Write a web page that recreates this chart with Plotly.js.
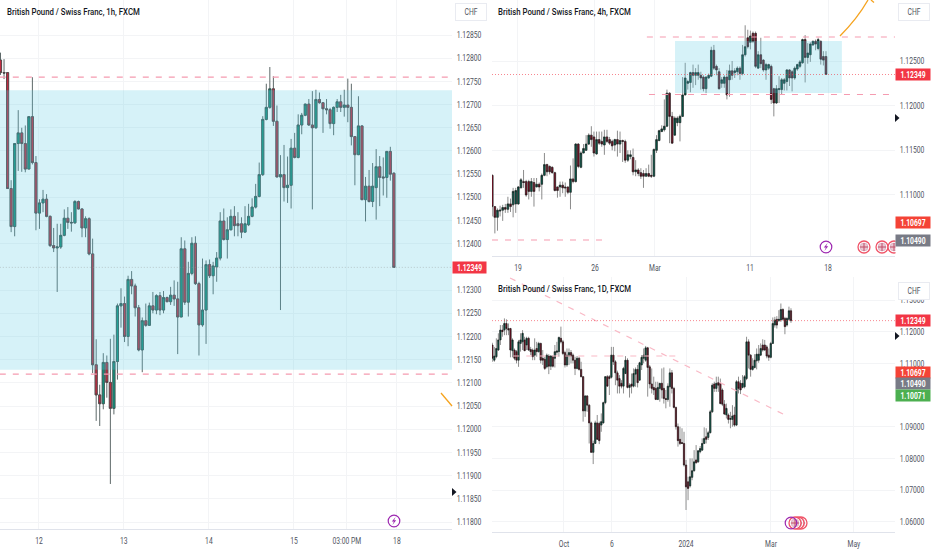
<!DOCTYPE html>
<html><head><meta charset="utf-8">
<script src="https://cdn.plot.ly/plotly-3.0.1.min.js"></script>
<style>html,body{margin:0;padding:0;background:#fff}#c{width:932px;height:550px}</style></head>
<body><div id="c"></div>
<script>
// [open, high, low, close]
const h1Candles=[[1.12796,1.12812,1.12764,1.12769],[1.12769,1.12798,1.12755,1.12768],[1.12769,1.12769,1.12518,1.12519],[1.12519,1.12537,1.12425,1.12437],[1.12437,1.12616,1.12416,1.12616],[1.12616,1.12688,1.12557,1.12639],[1.12639,1.12650,1.12555,1.12616],[1.12616,1.12655,1.12554,1.12561],[1.12561,1.12674,1.12561,1.12674],[1.12674,1.12759,1.12571,1.12575],
[1.12575,1.12589,1.12429,1.12466],[1.12466,1.12496,1.12432,1.12488],[1.12488,1.12516,1.12468,1.12496],[1.12496,1.12507,1.12457,1.12459],[1.12459,1.12461,1.12393,1.12396],[1.12396,1.12434,1.12382,1.12391],[1.12391,1.12443,1.12296,1.12393],[1.12393,1.12443,1.12389,1.12418],[1.12418,1.12474,1.12416,1.12455],[1.12455,1.12479,1.12432,1.12446],
[1.12446,1.12468,1.12426,1.12445],[1.12445,1.12494,1.12443,1.12491],[1.12491,1.12493,1.12474,1.12475],[1.12475,1.12476,1.12414,1.12434],[1.12434,1.12459,1.12414,1.12454],[1.12454,1.12457,1.12375,1.12378],[1.12378,1.12411,1.12121,1.12139],[1.12139,1.12194,1.12018,1.12074],[1.12074,1.12096,1.12007,1.12055],[1.12055,1.12164,1.12043,1.12144],
[1.12144,1.12159,1.12068,1.12101],[1.12101,1.12195,1.11882,1.12045],[1.12045,1.12204,1.12032,1.12146],[1.12146,1.12271,1.12107,1.12266],[1.12266,1.12304,1.12219,1.12271],[1.12271,1.12286,1.12188,1.12200],[1.12200,1.12331,1.12179,1.12323],[1.12323,1.12341,1.12291,1.12309],[1.12309,1.12314,1.12243,1.12262],[1.12262,1.12268,1.12168,1.12171],
[1.12171,1.12241,1.12123,1.12234],[1.12234,1.12271,1.12221,1.12224],[1.12224,1.12273,1.12224,1.12266],[1.12266,1.12296,1.12250,1.12257],[1.12257,1.12291,1.12248,1.12288],[1.12288,1.12296,1.12246,1.12257],[1.12257,1.12298,1.12250,1.12284],[1.12284,1.12286,1.12274,1.12275],[1.12275,1.12307,1.12268,1.12289],[1.12289,1.12321,1.12266,1.12281],
[1.12281,1.12318,1.12162,1.12242],[1.12242,1.12414,1.12242,1.12389],[1.12389,1.12407,1.12268,1.12274],[1.12274,1.12361,1.12243,1.12336],[1.12336,1.12414,1.12332,1.12401],[1.12401,1.12416,1.12311,1.12314],[1.12314,1.12318,1.12159,1.12225],[1.12225,1.12368,1.12221,1.12257],[1.12257,1.12364,1.12184,1.12355],[1.12355,1.12366,1.12326,1.12331],
[1.12331,1.12361,1.12291,1.12352],[1.12350,1.12382,1.12318,1.12369],[1.12369,1.12468,1.12364,1.12449],[1.12449,1.12476,1.12407,1.12409],[1.12409,1.12457,1.12368,1.12430],[1.12430,1.12474,1.12429,1.12459],[1.12459,1.12481,1.12416,1.12439],[1.12443,1.12468,1.12416,1.12439],[1.12443,1.12457,1.12412,1.12425],[1.12425,1.12481,1.12424,1.12443],
[1.12441,1.12486,1.12438,1.12459],[1.12459,1.12498,1.12457,1.12479],[1.12479,1.12529,1.12476,1.12502],[1.12502,1.12575,1.12500,1.12549],[1.12549,1.12675,1.12546,1.12668],[1.12668,1.12745,1.12666,1.12694],[1.12694,1.12781,1.12691,1.12734],[1.12734,1.12761,1.12654,1.12664],[1.12664,1.12698,1.12543,1.12544],[1.12544,1.12591,1.12257,1.12549],
[1.12549,1.12613,1.12491,1.12521],[1.12521,1.12588,1.12488,1.12526],[1.12526,1.12626,1.12476,1.12606],[1.12606,1.12639,1.12584,1.12586],[1.12586,1.12679,1.12584,1.12656],[1.12656,1.12682,1.12636,1.12677],[1.12677,1.12702,1.12675,1.12701],[1.12701,1.12712,1.12654,1.12656],[1.12656,1.12729,1.12474,1.12650],[1.12650,1.12732,1.12648,1.12711],
[1.12711,1.12726,1.12702,1.12704],[1.12704,1.12705,1.12639,1.12691],[1.12691,1.12712,1.12679,1.12689],[1.12689,1.12693,1.12648,1.12659],[1.12659,1.12696,1.12634,1.12694],[1.12694,1.12712,1.12684,1.12706],[1.12706,1.12721,1.12684,1.12694],[1.12694,1.12732,1.12674,1.12699],[1.12699,1.12756,1.12662,1.12694],[1.12694,1.12745,1.12612,1.12631],
[1.12631,1.12632,1.12526,1.12592],[1.12592,1.12718,1.12591,1.12654],[1.12654,1.12655,1.12494,1.12495],[1.12495,1.12544,1.12448,1.12524],[1.12524,1.12559,1.12489,1.12491],[1.12491,1.12574,1.12479,1.12524],[1.12521,1.12604,1.12452,1.12566],[1.12566,1.12589,1.12481,1.12543],[1.12544,1.12586,1.12504,1.12542],[1.12543,1.12600,1.12499,1.12599],
[1.12599,1.12609,1.12536,1.12550],[1.12552,1.12554,1.12348,1.12349]];

const h4Candles=[[1.1122,1.1123,1.1076,1.1087],[1.1087,1.1087,1.1057,1.1075],[1.1075,1.1085,1.1060,1.1083],[1.1082,1.1088,1.1076,1.1083],[1.1083,1.1089,1.1071,1.1086],[1.1086,1.1090,1.1080,1.1084],[1.1084,1.1098,1.1080,1.1090],[1.1090,1.1096,1.1081,1.1087],[1.1089,1.1108,1.1075,1.1104],[1.1090,1.1108,1.1080,1.1105],
[1.1090,1.1110,1.1089,1.1109],[1.1108,1.1119,1.1108,1.1117],[1.1115,1.1128,1.1108,1.1114],[1.1115,1.1117,1.1098,1.1100],[1.1115,1.1117,1.1095,1.1104],[1.1104,1.1119,1.1098,1.1115],[1.1114,1.1119,1.1087,1.1104],[1.1109,1.1119,1.1109,1.1112],[1.1112,1.1114,1.1104,1.1109],[1.1112,1.1124,1.1095,1.1122],
[1.1122,1.1147,1.1121,1.1134],[1.1134,1.1135,1.1121,1.1126],[1.1132,1.1133,1.1123,1.1126],[1.1131,1.1132,1.1124,1.1125],[1.1125,1.1126,1.1104,1.1105],[1.1109,1.1109,1.1097,1.1105],[1.1109,1.1115,1.1098,1.1111],[1.1111,1.1115,1.1102,1.1108],[1.1109,1.1114,1.1098,1.1108],[1.1109,1.1109,1.1101,1.1103],
[1.1103,1.1133,1.1084,1.1118],[1.1118,1.1141,1.1113,1.1115],[1.1115,1.1158,1.1114,1.1157],[1.1157,1.1158,1.1130,1.1132],[1.1131,1.1149,1.1130,1.1147],[1.1147,1.1157,1.1147,1.1152],[1.1150,1.1167,1.1150,1.1157],[1.1157,1.1169,1.1156,1.1167],[1.1167,1.1177,1.1154,1.1162],[1.1165,1.1171,1.1143,1.1147],
[1.1146,1.1171,1.1145,1.1162],[1.1162,1.1171,1.1156,1.1158],[1.1160,1.1171,1.1154,1.1157],[1.1156,1.1173,1.1145,1.1165],[1.1165,1.1173,1.1158,1.1160],[1.1162,1.1165,1.1156,1.1158],[1.1160,1.1162,1.1150,1.1155],[1.1156,1.1163,1.1149,1.1162],[1.1162,1.1172,1.1143,1.1157],[1.1157,1.1171,1.1147,1.1161],
[1.1161,1.1162,1.1137,1.1160],[1.1160,1.1162,1.1136,1.1139],[1.1139,1.1150,1.1137,1.1145],[1.1143,1.1150,1.1140,1.1145],[1.1142,1.1152,1.1122,1.1126],[1.1126,1.1139,1.1121,1.1128],[1.1128,1.1130,1.1121,1.1124],[1.1125,1.1130,1.1118,1.1121],[1.1124,1.1128,1.1108,1.1121],[1.1121,1.1130,1.1121,1.1124],
[1.1124,1.1134,1.1120,1.1121],[1.1122,1.1145,1.1119,1.1121],[1.1121,1.1152,1.1120,1.1151],[1.1150,1.1167,1.1147,1.1162],[1.1161,1.1173,1.1160,1.1172],[1.1171,1.1178,1.1171,1.1174],[1.1173,1.1207,1.1171,1.1177],[1.1177,1.1218,1.1176,1.1214],[1.1214,1.1215,1.1158,1.1188],[1.1188,1.1193,1.1158,1.1158],
[1.1167,1.1188,1.1167,1.1186],[1.1181,1.1188,1.1177,1.1186],[1.1181,1.1190,1.1160,1.1188],[1.1188,1.1232,1.1188,1.1212],[1.1212,1.1248,1.1212,1.1231],[1.1225,1.1229,1.1218,1.1227],[1.1226,1.1238,1.1215,1.1237],[1.1237,1.1246,1.1220,1.1234],[1.1234,1.1242,1.1223,1.1237],[1.1234,1.1246,1.1229,1.1237],
[1.1234,1.1238,1.1218,1.1231],[1.1232,1.1234,1.1216,1.1219],[1.1219,1.1233,1.1214,1.1232],[1.1231,1.1236,1.1230,1.1234],[1.1233,1.1266,1.1232,1.1262],[1.1262,1.1268,1.1240,1.1242],[1.1244,1.1246,1.1234,1.1240],[1.1238,1.1242,1.1218,1.1219],[1.1225,1.1232,1.1220,1.1229],[1.1225,1.1234,1.1220,1.1232],
[1.1232,1.1240,1.1207,1.1212],[1.1229,1.1246,1.1210,1.1239],[1.1239,1.1250,1.1229,1.1234],[1.1237,1.1242,1.1231,1.1239],[1.1238,1.1244,1.1234,1.1242],[1.1242,1.1244,1.1229,1.1236],[1.1236,1.1268,1.1234,1.1257],[1.1257,1.1290,1.1255,1.1266],[1.1276,1.1285,1.1264,1.1266],[1.1271,1.1284,1.1263,1.1278],
[1.1281,1.1283,1.1270,1.1272],[1.1281,1.1283,1.1242,1.1244],[1.1242,1.1261,1.1242,1.1257],[1.1257,1.1276,1.1242,1.1247],[1.1251,1.1252,1.1238,1.1240],[1.1240,1.1248,1.1229,1.1246],[1.1242,1.1247,1.1240,1.1246],[1.1244,1.1246,1.1202,1.1207],[1.1219,1.1220,1.1188,1.1203],[1.1203,1.1223,1.1202,1.1219],
[1.1218,1.1233,1.1203,1.1219],[1.1218,1.1231,1.1212,1.1229],[1.1225,1.1231,1.1217,1.1229],[1.1227,1.1241,1.1217,1.1240],[1.1240,1.1241,1.1222,1.1231],[1.1238,1.1240,1.1216,1.1231],[1.1231,1.1244,1.1229,1.1242],[1.1241,1.1247,1.1239,1.1246],[1.1244,1.1251,1.1242,1.1249],[1.1248,1.1275,1.1247,1.1274],
[1.1274,1.1279,1.1226,1.1254],[1.1254,1.1270,1.1247,1.1259],[1.1257,1.1271,1.1249,1.1269],[1.1268,1.1273,1.1267,1.1272],[1.1272,1.1274,1.1262,1.1269],[1.1264,1.1276,1.1262,1.1274],[1.1272,1.1273,1.1246,1.1252],[1.1255,1.1261,1.1245,1.1251],[1.1255,1.1261,1.1235,1.1235]];

const d1Candles=[[1.1158,1.1165,1.1105,1.1116],[1.1110,1.1152,1.1105,1.1123],[1.1121,1.1179,1.1116,1.1147],[1.1142,1.1195,1.1140,1.1174],[1.1174,1.1221,1.1158,1.1205],[1.1205,1.1221,1.1184,1.1200],[1.1205,1.1242,1.1189,1.1226],[1.1226,1.1239,1.1189,1.1210],[1.1210,1.1226,1.1189,1.1205],[1.1210,1.1212,1.1119,1.1142],
[1.1140,1.1179,1.1119,1.1174],[1.1142,1.1147,1.1110,1.1116],[1.1137,1.1142,1.1100,1.1110],[1.1110,1.1174,1.1089,1.1168],[1.1163,1.1195,1.1137,1.1174],[1.1168,1.1205,1.1142,1.1195],[1.1174,1.1184,1.1140,1.1140],[1.1158,1.1184,1.1142,1.1179],[1.1179,1.1184,1.1140,1.1142],[1.1144,1.1152,1.1126,1.1137],
[1.1142,1.1147,1.1110,1.1121],[1.1126,1.1179,1.1110,1.1142],[1.1147,1.1168,1.1121,1.1137],[1.1137,1.1168,1.1134,1.1163],[1.1163,1.1165,1.1100,1.1110],[1.1116,1.1142,1.1095,1.1110],[1.1113,1.1121,1.1079,1.1084],[1.1089,1.1131,1.1084,1.1126],[1.1123,1.1129,1.1066,1.1091],[1.1091,1.1126,1.1079,1.1123],
[1.1121,1.1126,1.1087,1.1091],[1.1116,1.1158,1.1087,1.1137],[1.1135,1.1168,1.1126,1.1139],[1.1137,1.1184,1.1121,1.1182],[1.1179,1.1216,1.1163,1.1168],[1.1168,1.1174,1.1126,1.1131],[1.1134,1.1140,1.1087,1.1095],[1.1095,1.1147,1.1089,1.1126],[1.1123,1.1147,1.1095,1.1134],[1.1134,1.1142,1.1100,1.1123],
[1.1126,1.1131,1.1100,1.1110],[1.1110,1.1121,1.1063,1.1084],[1.1084,1.1123,1.1081,1.1116],[1.1116,1.1121,1.1077,1.1081],[1.1081,1.1105,1.1056,1.1058],[1.1058,1.1060,1.0916,1.0950],[1.0950,1.1000,1.0931,1.0997],[1.0997,1.1000,1.0947,1.0968],[1.0968,1.0971,1.0847,1.0912],[1.0912,1.0916,1.0818,1.0819],
[1.0819,1.0856,1.0782,1.0847],[1.0847,1.0919,1.0847,1.0912],[1.0912,1.0937,1.0858,1.0860],[1.0910,1.0916,1.0845,1.0856],[1.0905,1.0942,1.0884,1.0916],[1.0912,1.0979,1.0910,1.0976],[1.0976,1.1060,1.0971,1.1058],[1.1058,1.1063,1.1028,1.1028],[1.1058,1.1063,1.1000,1.1052],[1.1056,1.1152,1.1052,1.1126],
[1.1126,1.1152,1.1095,1.1105],[1.1105,1.1110,1.1031,1.1070],[1.1070,1.1077,1.1005,1.1047],[1.1052,1.1063,1.1005,1.1028],[1.1037,1.1047,1.1021,1.1028],[1.1028,1.1089,1.1005,1.1084],[1.1068,1.1123,1.1066,1.1110],[1.1110,1.1116,1.1021,1.1024],[1.1024,1.1037,1.0992,1.1031],[1.1035,1.1068,1.1005,1.1028],
[1.1028,1.1084,1.1024,1.1068],[1.1066,1.1087,1.1026,1.1081],[1.1081,1.1095,1.1024,1.1039],[1.1047,1.1105,1.1045,1.1102],[1.1095,1.1126,1.1079,1.1119],[1.1116,1.1147,1.1100,1.1126],[1.1110,1.1155,1.1105,1.1149],[1.1149,1.1152,1.0995,1.1087],[1.1089,1.1095,1.1021,1.1035],[1.1035,1.1084,1.1005,1.1021],
[1.1024,1.1058,1.1000,1.1016],[1.1021,1.1042,1.0984,1.0986],[1.0986,1.1042,1.0984,1.1024],[1.1021,1.1037,1.0979,1.1037],[1.1037,1.1084,1.0989,1.1016],[1.1021,1.1087,1.0973,1.0989],[1.0989,1.1016,1.0958,1.0986],[1.0986,1.1037,1.0979,1.1028],[1.1026,1.1084,1.0963,1.1070],[1.1070,1.1079,1.1005,1.1021],
[1.1021,1.1026,1.0958,1.0961],[1.0961,1.0963,1.0891,1.0900],[1.0900,1.0910,1.0837,1.0856],[1.0860,1.0900,1.0842,1.0847],[1.0850,1.0895,1.0847,1.0847],[1.0847,1.0884,1.0774,1.0779],[1.0779,1.0795,1.0637,1.0710],[1.0726,1.0742,1.0668,1.0705],[1.0713,1.0800,1.0708,1.0742],[1.0740,1.0800,1.0731,1.0761],
[1.0761,1.0826,1.0758,1.0789],[1.0795,1.0842,1.0784,1.0786],[1.0789,1.0826,1.0786,1.0824],[1.0821,1.0839,1.0816,1.0831],[1.0826,1.0863,1.0824,1.0847],[1.0847,1.0898,1.0845,1.0863],[1.0868,1.0895,1.0847,1.0860],[1.0866,1.0887,1.0858,1.0881],[1.0881,1.0953,1.0879,1.0947],[1.0947,1.1037,1.0944,1.1031],
[1.1035,1.1042,1.1010,1.1021],[1.1021,1.1058,1.1010,1.1037],[1.1039,1.1058,1.1010,1.1031],[1.1037,1.1052,1.0971,1.0973],[1.1016,1.1021,1.0965,1.0971],[1.0971,1.0984,1.0937,1.0940],[1.0937,1.0973,1.0926,1.0958],[1.0937,1.0942,1.0910,1.0923],[1.0923,1.0947,1.0895,1.0926],[1.0923,1.0968,1.0900,1.0934],
[1.0937,1.0963,1.0900,1.0905],[1.0905,1.1047,1.0902,1.1042],[1.1042,1.1058,1.1005,1.1021],[1.1037,1.1047,1.1003,1.1016],[1.1024,1.1063,1.1021,1.1037],[1.1026,1.1063,1.1021,1.1058],[1.1052,1.1184,1.1047,1.1168],[1.1168,1.1176,1.1084,1.1126],[1.1126,1.1129,1.1058,1.1081],[1.1081,1.1116,1.1077,1.1091],
[1.1087,1.1129,1.1084,1.1110],[1.1108,1.1147,1.1081,1.1129],[1.1110,1.1158,1.1102,1.1129],[1.1126,1.1163,1.1123,1.1147],[1.1158,1.1176,1.1137,1.1142],[1.1158,1.1174,1.1140,1.1142],[1.1152,1.1158,1.1116,1.1123],[1.1126,1.1147,1.1108,1.1119],[1.1119,1.1168,1.1116,1.1163],[1.1163,1.1245,1.1161,1.1226],
[1.1221,1.1247,1.1213,1.1237],[1.1239,1.1249,1.1210,1.1221],[1.1235,1.1268,1.1231,1.1239],[1.1237,1.1289,1.1231,1.1270],[1.1270,1.1274,1.1235,1.1239],[1.1242,1.1247,1.1192,1.1216],[1.1221,1.1245,1.1216,1.1242],[1.1239,1.1279,1.1235,1.1266],[1.1266,1.1274,1.1228,1.1235]];

const h1PriceTicks=[1.1285,1.128,1.1275,1.127,1.1265,1.126,1.1255,1.125,1.1245,1.124,1.123,1.1225,1.122,1.1215,1.121,1.1205,1.12,1.1195,1.119,1.1185,1.118];
const h4PriceTicks=[1.125,1.12,1.115,1.11];
const d1PriceTicks=[1.13,1.12,1.11,1.09,1.08,1.07,1.06];
const h1TimeTicks=[10.86,34.8,58.8,82.8,97.7,111.85];
const h1TimeLabels=['12','13','14','15','03:00 PM','18'];
const h4TimeTicks=[9.86,39.4,62.4,98.9,128.8];
const h4TimeLabels=['19','26','Mar','11','18'];
const d1TimeTicks=[35.5,59.3,96,138.1,179.2];
const d1TimeLabels=['Oct','6','2024','Mar','May'];
const chartTitles=['British Pound / Swiss Franc, 1h, FXCM','British Pound / Swiss Franc, 4h, FXCM','British Pound / Swiss Franc, 1D, FXCM'];
const lastPrice=1.12349;

const FONT='Roboto,"Liberation Sans",sans-serif';
const W=932,H=550,px=x=>x/W,py=y=>1-y/H;

function candleTraces(rows,xa,ya,st){
  const x=rows.map((_,i)=>i),o=rows.map(r=>r[0]),h=rows.map(r=>r[1]),l=rows.map(r=>r[2]),c=rows.map(r=>r[3]);
  const base={type:'candlestick',x,xaxis:xa,yaxis:ya,hoverinfo:'skip',showlegend:false,whiskerwidth:0};
  return [
    Object.assign({},base,{open:o,high:h,low:l,close:c,
      increasing:{line:{color:st.wick,width:1},fillcolor:'rgba(0,0,0,0)'},
      decreasing:{line:{color:st.wick,width:1},fillcolor:'rgba(0,0,0,0)'}}),
    Object.assign({},base,{open:o,close:c,high:o.map((v,i)=>Math.max(v,c[i])),low:o.map((v,i)=>Math.min(v,c[i])),
      increasing:{line:{color:st.edge,width:st.ew},fillcolor:st.up},
      decreasing:{line:{color:st.edge,width:st.ew},fillcolor:st.down}})
  ];
}
const data=[
  ...candleTraces(h1Candles,'x','y',{wick:'#5d6868',edge:'#3a4645',ew:0.6,up:'#12947e',down:'#c02c42'}),
  ...candleTraces(h4Candles,'x2','y2',{wick:'#8b8b8b',edge:'#141414',ew:0.5,up:'#075c4c',down:'#7c1226'}),
  ...candleTraces(d1Candles,'x3','y3',{wick:'#8f8f8f',edge:'#111',ew:0.5,up:'#075c4c',down:'#7c1226'})
];

const tf={family:FONT,size:9,color:'#50535e'};
const gc='#f3f4f6';
const fmt=v=>v.toFixed(5);
function xAxis(dom,range,tv,tt,anchor){return {domain:dom,range,anchor,tickmode:'array',tickvals:tv,ticktext:tt,tickfont:tf,showgrid:true,gridcolor:gc,gridwidth:1,zeroline:false,showline:true,linecolor:'#e0e3eb',linewidth:1,ticks:'outside',ticklen:3,tickcolor:'rgba(0,0,0,0)',rangeslider:{visible:false},fixedrange:true};}
function yAxis(dom,range,tv,anchor){return {domain:dom,range,anchor,side:'right',tickmode:'array',tickvals:tv,ticktext:tv.map(fmt),tickfont:tf,showgrid:true,gridcolor:gc,gridwidth:1,zeroline:false,showline:false,ticks:'outside',ticklen:2,tickcolor:'rgba(0,0,0,0)',fixedrange:true};}

const shapes=[];
const dash={color:'#f59bb0',width:1.2,dash:'6px,7px'};
const zoneFill='rgba(91,203,227,0.25)';
function hline(xr,yr,x0,x1,p,line){shapes.push({type:'line',xref:xr,yref:yr,x0,x1,y0:p,y1:p,line,layer:'above'});}
// 1h panel
shapes.push({type:'rect',xref:'x',yref:'y',x0:-0.2,x1:127.4,y0:1.12128,y1:1.12731,fillcolor:zoneFill,line:{width:0},layer:'above'});
hline('x','y',-0.2,126.2,1.12759,dash);
hline('x','y',-0.2,126.2,1.12119,dash);
hline('x','y',-0.2,127.4,lastPrice,{color:'rgba(150,150,150,0.45)',width:1,dash:'1px,2px'});
// 4h panel
shapes.push({type:'rect',xref:'x2',yref:'y2',x0:70.1,x1:134.1,y0:1.12142,y1:1.12724,fillcolor:zoneFill,line:{width:0},layer:'above'});
hline('x2','y2',59.3,154.5,1.12769,dash);
hline('x2','y2',60.1,152.6,1.12125,dash);
hline('x2','y2',-0.1,42.5,1.10496,dash);
hline('x2','y2',-0.1,154.5,lastPrice,{color:'rgba(242,54,69,0.6)',width:1,dash:'1px,2px'});
// 1D panel
hline('x3','y3',10.4,91.5,1.11233,{color:'#f9b9c6',width:1.2,dash:'6px,7px'});
shapes.push({type:'line',xref:'x3',yref:'y3',x0:8.8,x1:146,y0:1.13696,y1:1.09338,line:{color:'#f9b9c6',width:1.2,dash:'6px,7px'},layer:'above'});
hline('x3','y3',-0.15,199.5,lastPrice,{color:'rgba(242,54,69,0.6)',width:1,dash:'1px,2px'});
// pixel-placed decoration
function pathPx(pts,fill,line){shapes.push({type:'path',xref:'paper',yref:'paper',path:pts.map((p,i)=>p[0]+px(p[1])+','+py(p[2])).join(' ')+(fill?' Z':''),fillcolor:fill||'rgba(0,0,0,0)',line:line||{width:0},layer:'above'});}
function circle(x,y,r,fill,color,w){shapes.push({type:'circle',xref:'paper',yref:'paper',x0:px(x-r),x1:px(x+r),y0:py(y+r),y1:py(y-r),fillcolor:fill,line:{color,width:w},layer:'above'});}
function bolt(x,y){circle(x,y,5.8,'#fff','#9c27b0',1.2);pathPx([['M',x+1.6,y-4],['L',x-2.2,y+0.6],['L',x-0.1,y+0.6],['L',x-1.6,y+4],['L',x+2.2,y-0.8],['L',x+0.1,y-0.8]],'#9c27b0');}
function flag(x,y){circle(x,y,6,'#fff','#f05468',1.3);circle(x,y,4,'#e9c7d2','#c9a1b6',0.5);
  pathPx([['M',x-4,y],['L',x+4,y]],null,{color:'#c04c66',width:1});pathPx([['M',x,y-4],['L',x,y+4]],null,{color:'#c04c66',width:1});}
function tri(x,y){pathPx([['M',x,y-4],['L',x+4.5,y],['L',x,y+4]],'#131722');}
const orange={color:'#f5a31f',width:1.3};
pathPx([['M',441,393],['L',452,406]],null,orange);
shapes.push({type:'path',xref:'paper',yref:'paper',path:`M${px(840)},${py(36)} C${px(850)},${py(26)} ${px(860)},${py(14)} ${px(868)},${py(0)}`,line:orange,fillcolor:'rgba(0,0,0,0)',layer:'above'});
pathPx([['M',871,0],['L',874,2.5]],null,orange);
tri(452,492);tri(895,118);tri(895,336);
bolt(394,521);bolt(826,247);
flag(864,247);flag(882,247);flag(894,247);
shapes.push({type:'rect',xref:'paper',yref:'paper',x0:px(895.5),x1:px(902),y0:py(255),y1:py(238),fillcolor:'#fff',line:{width:0},layer:'above'});
flag(801,523);flag(798,523);flag(795,523);
circle(791,523,5.8,'rgba(255,255,255,0)','#9c27b0',1.2);

const ann=[];
function title(t,x,y){ann.push({text:t,xref:'paper',yref:'paper',x:px(x),y:py(y),xanchor:'left',yanchor:'middle',showarrow:false,font:{family:FONT,size:9.5,weight:500,color:'#131722'}});}
title(chartTitles[0],5,11);title(chartTitles[1],496,11);title(chartTitles[2],496,288);
function tag(t,p,ya,x,w,c){ann.push({text:t,xref:'paper',yref:ya,x:px(x),y:p,xanchor:'left',yanchor:'middle',width:w,height:11,bgcolor:c,borderpad:0,showarrow:false,align:'center',font:{family:FONT,size:9,weight:700,color:'#fff'}});}
tag(fmt(lastPrice),lastPrice,'y',452,33,'#f23645');
tag(fmt(lastPrice),lastPrice,'y2',895,34,'#f23645');
tag('1.10697',1.10697,'y2',895,34,'#f44336');
tag('1.10490',1.1049,'y2',895,34,'#787b86');
tag(fmt(lastPrice),lastPrice,'y3',895,34,'#f23645');
// on the daily scale these tags are stacked so they do not collide, as in the reference
tag('1.10697',1.10697,'y3',895,34,'#f44336');
tag('1.10490',1.10349,'y3',895,34,'#787b86');
tag('1.10071',1.09985,'y3',895,34,'#4caf50');
function chf(x,y){ann.push({text:'CHF',xref:'paper',yref:'paper',x:px(x),y:py(y),xanchor:'left',yanchor:'top',width:28,height:14,bgcolor:'#fff',bordercolor:'#e9ebf1',borderwidth:1,borderpad:1,showarrow:false,align:'center',font:{family:FONT,size:9,color:'#50535e'}});}
chf(455,3);chf(898,3);chf(898,282);

const layout={width:W,height:H,margin:{l:0,r:0,t:0,b:0,pad:0},paper_bgcolor:'#fff',plot_bgcolor:'#fff',showlegend:false,boxgap:0.15,dragmode:false,
  xaxis:xAxis([0,px(452)],[-0.14,127.4],h1TimeTicks,h1TimeLabels,'y'),
  yaxis:yAxis([py(529),1],[1.117849,1.129255],h1PriceTicks,'x'),
  xaxis2:xAxis([px(492),px(895)],[-0.1,154.47],h4TimeTicks,h4TimeLabels,'y2'),
  yaxis2:yAxis([py(256),1],[1.10317,1.13183],h4PriceTicks,'x2'),
  xaxis3:xAxis([px(492),px(895)],[-0.15,199.55],d1TimeTicks,d1TimeLabels,'y3'),
  yaxis3:yAxis([py(532),py(277)],[1.05675,1.13727],d1PriceTicks,'x3'),
  shapes,annotations:ann};
Plotly.newPlot('c',data,layout,{displayModeBar:false,staticPlot:true}).then(gd=>{
  // The reference's lettering is horizontally condensed; narrow the real text to match.
  gd.querySelectorAll('svg text').forEach(t=>{
    const s=t.textContent||'';if(!s)return;
    const isTitle=s.startsWith('British');
    const f=isTitle?0.82:0.75;
    const len=t.getComputedTextLength();
    t.setAttribute('textLength',len*f);
    t.setAttribute('lengthAdjust','spacingAndGlyphs');
    if(isTitle)t.setAttribute('x',parseFloat(t.getAttribute('x')||0)-len*(1-f)/2);
  });
});
</script></body></html>
